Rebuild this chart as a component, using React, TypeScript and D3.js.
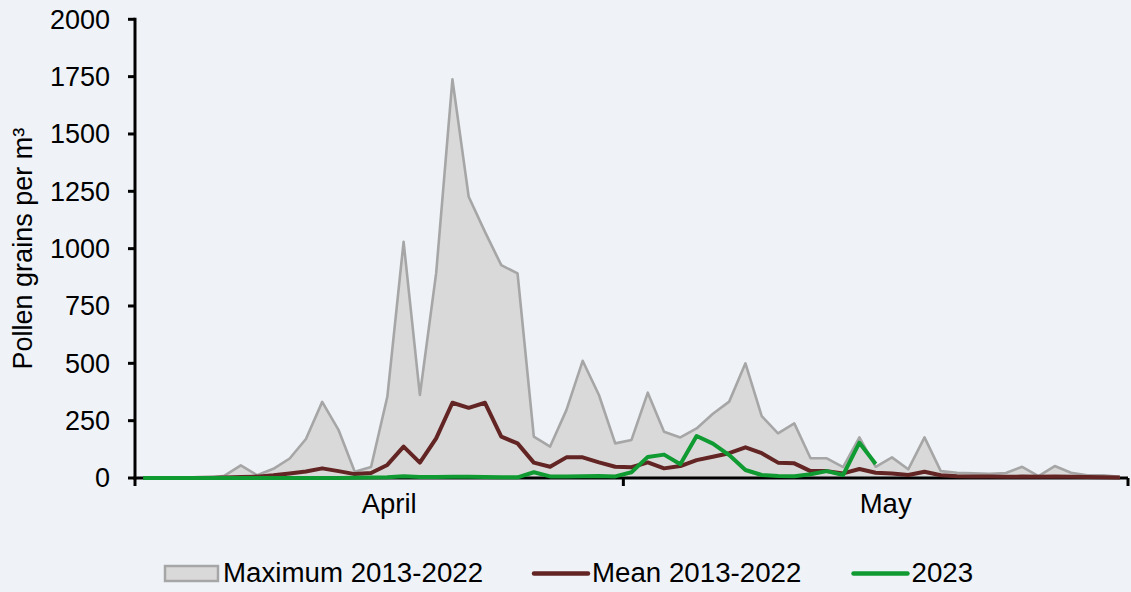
import React, { useEffect, useRef } from "react";
import * as d3 from "d3";

// daily pollen counts, 1 April .. 31 May (61 days)
const days = d3.range(61);
const months = ["April", "May"];
const monthOfDay = days.map((d) => (d < 30 ? "April" : "May"));

const maxValues = [
  0, 0, 0, 0, 0, 10, 55, 12, 40, 85, 170, 332, 210, 27, 48, 354, 1030, 362, 893, 1738,
  1226, 1073, 928, 892, 180, 137, 296, 511, 362, 151, 166, 372, 202, 177, 216, 280, 333, 500, 270, 195,
  238, 86, 86, 47, 177, 49, 90, 38, 177, 30, 23, 20, 18, 22, 49, 8, 52, 23, 12, 12, 5,
];

const meanValues = [
  0, 0, 0, 0, 1, 2, 4, 6, 12, 20, 28, 42, 30, 17, 22, 57, 137, 67, 173, 328,
  306, 328, 180, 151, 67, 49, 90, 90, 68, 49, 47, 68, 42, 52, 78, 93, 108, 134, 108, 67,
  64, 30, 30, 20, 39, 23, 20, 13, 27, 12, 8, 7, 6, 5, 6, 5, 6, 5, 4, 3, 2,
];

// 2023 season so far (ends 15 May)
const values2023 = [
  0, 0, 0, 0, 0, 0, 0, 0, 0, 0, 0, 0, 0, 1, 2, 3, 8, 4, 4, 5,
  5, 4, 3, 3, 25, 7, 6, 8, 9, 7, 25, 92, 102, 60, 183, 150, 100, 35, 13, 9,
  8, 16, 30, 13, 154, 61,
];

const yTicks = d3.range(0, 2001, 250);

const legendItems = [
  { label: "Maximum 2013-2022", kind: "area", color: "#a6a6a6" },
  { label: "Mean 2013-2022", kind: "line", color: "#632523" },
  { label: "2023", kind: "line", color: "#109a32" },
];

const App = () => {
  const ref = useRef<SVGSVGElement>(null);

  useEffect(() => {
    const width = 1131,
      height = 592;
    const left = 135,
      right = 1128,
      top = 19.3,
      bottom = 478;
    const font = "'Liberation Sans', Arial, sans-serif";

    const svg = d3.select(ref.current);
    svg.selectAll("*").remove();

    svg.append("rect").attr("width", width).attr("height", height).attr("fill", "#eff3f8");

    const x = d3.scaleBand<number>().domain(days).range([left, right]).padding(0);
    const cx = (i: number) => (x(i) as number) + x.bandwidth() / 2;
    const y = d3.scaleLinear().domain([0, 2000]).range([bottom, top]);

    // grey band for the maximum
    const area = d3
      .area<number>()
      .x((d, i) => cx(i))
      .y0(y(0))
      .y1((d) => y(d));
    svg.append("path").attr("d", area(maxValues)).attr("fill", "#d9d9d9");

    // axes
    const yAxis = svg.append("g");
    yAxis
      .append("line")
      .attr("x1", left)
      .attr("x2", left)
      .attr("y1", top - 1.5)
      .attr("y2", bottom + 1.5)
      .attr("stroke", "#000")
      .attr("stroke-width", 3);
    yAxis
      .selectAll(".tick")
      .data(yTicks)
      .enter()
      .append("line")
      .attr("x1", left - 7)
      .attr("x2", left)
      .attr("y1", (d) => y(d))
      .attr("y2", (d) => y(d))
      .attr("stroke", "#000")
      .attr("stroke-width", 3);
    yAxis
      .selectAll(".lbl")
      .data(yTicks)
      .enter()
      .append("text")
      .attr("x", 110)
      .attr("y", (d) => y(d))
      .attr("dy", "0.35em")
      .attr("text-anchor", "end")
      .style("font-family", font)
      .style("font-size", "27px")
      .text((d) => d);

    svg
      .append("text")
      .attr("transform", "translate(32," + (top + bottom) / 2 + ") rotate(-90)")
      .attr("text-anchor", "middle")
      .style("font-family", font)
      .style("font-size", "27px")
      .text("Pollen grains per m³");

    const xAxis = svg.append("g");
    xAxis
      .append("line")
      .attr("x1", left - 1.5)
      .attr("x2", right)
      .attr("y1", bottom)
      .attr("y2", bottom)
      .attr("stroke", "#000")
      .attr("stroke-width", 3);
    const boundaries = [left, x(30) as number, right];
    xAxis
      .selectAll(".tick")
      .data(boundaries)
      .enter()
      .append("line")
      .attr("x1", (d) => d)
      .attr("x2", (d) => d)
      .attr("y1", bottom)
      .attr("y2", bottom + 8)
      .attr("stroke", "#000")
      .attr("stroke-width", 3);
    xAxis
      .selectAll(".lbl")
      .data(months)
      .enter()
      .append("text")
      .attr("x", (m) => (d3.mean(days.filter((d) => monthOfDay[d] === m), cx) as number) + 10)
      .attr("y", 513)
      .attr("text-anchor", "middle")
      .style("font-family", font)
      .style("font-size", "27.5px")
      .text((m) => m);

    // series lines
    const line = d3
      .line<number>()
      .x((d, i) => cx(i))
      .y((d) => y(d));

    svg
      .append("path")
      .attr("d", line(maxValues))
      .attr("fill", "none")
      .attr("stroke", "#a6a6a6")
      .attr("stroke-width", 2.6)
      .attr("stroke-linejoin", "round");
    svg
      .append("path")
      .attr("d", line(meanValues))
      .attr("fill", "none")
      .attr("stroke", "#632523")
      .attr("stroke-width", 4)
      .attr("stroke-linejoin", "round");
    svg
      .append("path")
      .attr("d", line(values2023))
      .attr("fill", "none")
      .attr("stroke", "#109a32")
      .attr("stroke-width", 4)
      .attr("stroke-linejoin", "round");

    // legend
    const legendX = [165, 534, 853.5];
    const legend = svg
      .selectAll(".legend")
      .data(legendItems)
      .enter()
      .append("g")
      .attr("transform", (d, i) => "translate(" + legendX[i] + ",573.5)");
    legend
      .filter((d) => d.kind === "area")
      .append("rect")
      .attr("x", 0)
      .attr("y", -7.5)
      .attr("width", 53)
      .attr("height", 15)
      .attr("fill", "#d9d9d9")
      .attr("stroke", "#a6a6a6")
      .attr("stroke-width", 2.5);
    legend
      .filter((d) => d.kind === "line")
      .append("line")
      .attr("x1", 0)
      .attr("x2", 54)
      .attr("y1", 0)
      .attr("y2", 0)
      .attr("stroke", (d) => d.color)
      .attr("stroke-width", 4.5)
      .attr("stroke-linecap", "round");
    legend
      .append("text")
      .attr("x", 58)
      .attr("y", 8.8)
      .style("font-family", font)
      .style("font-size", "27.7px")
      .text((d) => d.label);
  }, []);

  return (
    <div style={{ position: "absolute", left: 0, top: 0 }}>
      <svg ref={ref} width={1131} height={592} style={{ display: "block" }} />
    </div>
  );
};

export default App;
